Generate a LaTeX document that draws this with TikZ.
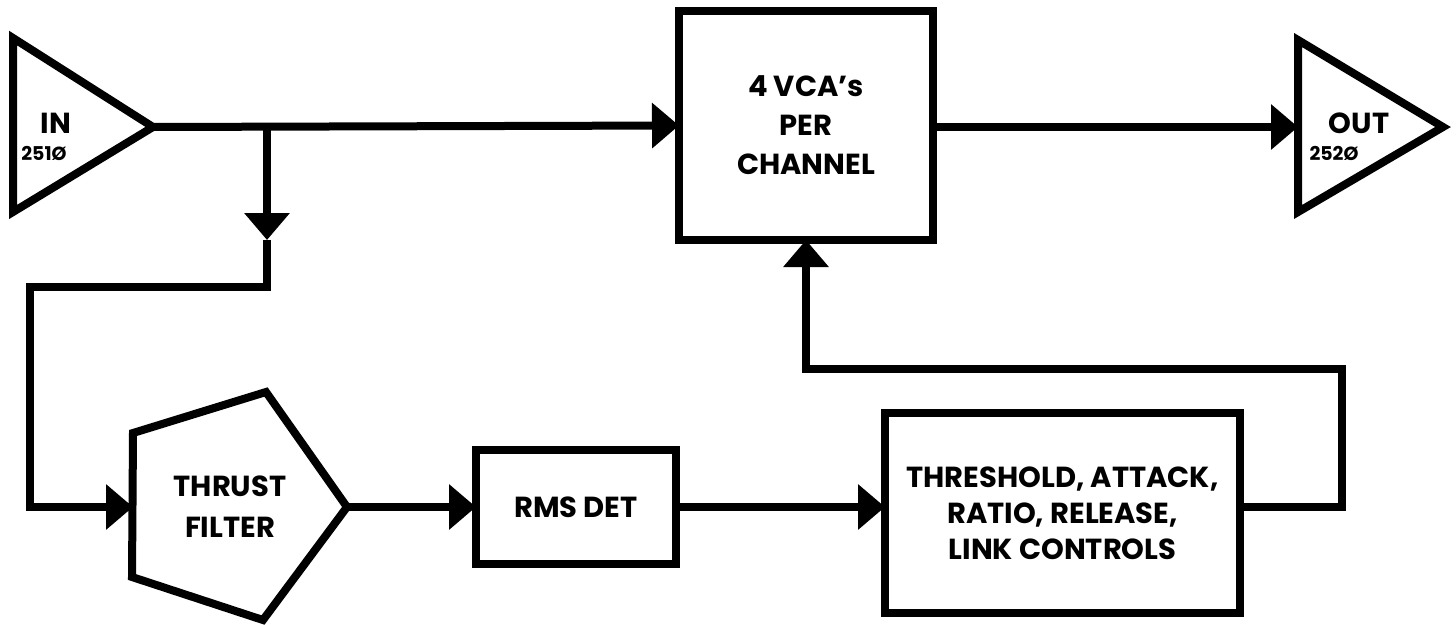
\documentclass[tikz,border=0pt]{standalone}
\usepackage{fontspec}
\setmainfont{Poppins}[UprightFont=* Bold]
\usetikzlibrary{arrows.meta}
\begin{document}
\begin{tikzpicture}[x=1pt,y=-1pt,
  wire/.style={line width=8pt,line join=miter},
  arr/.style={wire,-{Triangle[length=27pt,width=44pt]}},
  blk/.style={draw,line width=8pt,inner sep=0pt,outer sep=0pt,align=center,
    font=\fontsize{29}{39}\selectfont},
  lbl/.style={inner sep=0pt,font=\fontsize{29}{32}\selectfont},
  num/.style={inner sep=0pt,font=\fontsize{19}{22}\selectfont}]
\useasboundingbox (0,0) rectangle (1456,624);
% amplifiers
\draw[wire] (13,38) -- (13,212) -- (153,127) -- cycle;
\coordinate (intip) at (153,127);
\node[lbl] (inlbl) at (56,123) {IN};
\node[num] (innum) at (44,153) {251Ø};
\draw[wire] (1298,40) -- (1298,212) -- (1443,127) -- cycle;
\coordinate (outin) at (1298,127);
\node[lbl] (outlbl) at (1359,123) {OUT};
\node[num] (outnum) at (1334,153) {252Ø};
% pentagon
\draw[wire] (133,433) -- (266,392) -- (347,507) -- (263,620) -- (132,577) -- cycle;
\coordinate (pin) at (133,507);
\coordinate (pout) at (347,507);
\node[inner sep=0pt,align=center,font=\fontsize{29}{41}\selectfont] (thrust) at (230,507) {THRUST\\FILTER};
% blocks
\node[blk,minimum width=254pt,minimum height=229pt] (vca) at (806,125.5) {4 VCA’s\\PER\\CHANNEL};
\node[blk,minimum width=200pt,minimum height=114pt] (rms) at (576,507) {RMS DET};
\node[blk,minimum width=355pt,minimum height=200pt,font=\fontsize{29}{36}\selectfont] (thr) at (1062.5,513) {THRESHOLD, ATTACK,\\RATIO, RELEASE,\\LINK CONTROLS};
% connectors
\coordinate (br) at (267,127);
\coordinate (brm) at (267,240);
\coordinate (brb) at (267,287);
\coordinate (lft) at (30,287);
\draw[arr] (intip) -- (vca.west);
\draw[arr] (br) -- (brm);
\draw[wire] (brm) -- (brb) -- (lft) |- (pin);
\draw[arr] (lft |- pin) -- (pin);
\draw[arr] (pout) -- (rms.west);
\draw[arr] (rms.east) -- (rms.east -| thr.west);
\coordinate (fb1) at (1342,369);
\draw[arr] (thr.east |- pout) -| (fb1) -| (vca.south);
\draw[arr] (vca.east |- outin) -- (outin);
\end{tikzpicture}
\end{document}
